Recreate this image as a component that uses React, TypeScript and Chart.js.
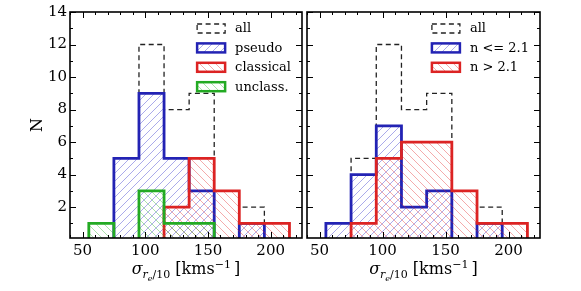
import React, { useEffect, useRef } from 'react';
import { Chart, registerables } from 'chart.js';

Chart.register(...registerables);

// ---------- data ----------
const binEdges = [55, 75, 95, 115, 135, 155, 175, 195, 215];
const allCounts = [1, 5, 12, 8, 9, 3, 2, 1];
const pseudoCounts = [0, 5, 9, 5, 3, 0, 1, 0];
const classicalCounts = [0, 0, 0, 2, 5, 3, 1, 1];
const unclassCounts = [1, 0, 3, 1, 1, 0, 0, 0];
const lowNCounts = [1, 4, 7, 2, 3, 0, 1, 0];
const highNCounts = [0, 1, 5, 6, 6, 3, 1, 1];
const xTickValues = [50, 100, 150, 200];
const xMinorValues = [40, 60, 70, 80, 90, 110, 120, 130, 140, 160, 170, 180, 190, 210, 220];
const yTickValues = [2, 4, 6, 8, 10, 12, 14];
const yMinorValues = [1, 3, 5, 7, 9, 11, 13];
const leftLabels = ['all', 'pseudo', 'classical', 'unclass.'];
const rightLabels = ['all', 'n <= 2.1', 'n > 2.1'];

const X_MIN = 40;
const X_MAX = 225;
const Y_MIN = 0.1;
const Y_MAX = 14;

const BLUE = '#2323b4';
const RED = '#dc2323';
const GREEN = '#23aa23';
const BLUE_H = 'rgba(35,35,200,0.38)';
const RED_H = 'rgba(225,35,35,0.38)';
const GREEN_H = 'rgba(35,180,35,0.38)';
const FONT = "'DejaVu Serif', serif";

function outline(counts: number[]) {
  const pts: { x: number; y: number }[] = [{ x: binEdges[0], y: 0 }];
  counts.forEach((c, i) => {
    pts.push({ x: binEdges[i], y: c });
    pts.push({ x: binEdges[i + 1], y: c });
  });
  pts.push({ x: binEdges[binEdges.length - 1], y: 0 });
  return pts;
}

function makeHatch(color: string, dir: 1 | -1): CanvasPattern | string {
  const s = 8;
  const c = document.createElement('canvas');
  c.width = s;
  c.height = s;
  const g = c.getContext('2d');
  if (!g) return 'transparent';
  g.strokeStyle = color;
  g.lineWidth = 1;
  g.beginPath();
  for (let k = -1; k <= 1; k++) {
    if (dir === 1) {
      g.moveTo(k * s, s);
      g.lineTo(s + k * s, 0);
    } else {
      g.moveTo(k * s, 0);
      g.lineTo(s + k * s, s);
    }
  }
  g.stroke();
  return g.createPattern(c, 'repeat') || 'transparent';
}

type LegendItem = { label: string; color: string; dashed: boolean; fill: CanvasPattern | string | null };

function makeFramePlugin(items: LegendItem[], showY: boolean) {
  return {
    id: 'framePlugin',
    afterDraw(chart: any) {
      const { ctx, chartArea: a } = chart;
      const xs = chart.scales.x;
      const ys = chart.scales.y;
      ctx.save();
      ctx.setLineDash([]);
      ctx.strokeStyle = '#000';
      ctx.lineWidth = 1;
      ctx.beginPath();
      const xtick = (vals: number[], len: number) => {
        vals.forEach((v) => {
          const px = Math.round(xs.getPixelForValue(v)) + 0.5;
          if (px < a.left || px > a.right) return;
          ctx.moveTo(px, a.bottom);
          ctx.lineTo(px, a.bottom - len);
          ctx.moveTo(px, a.top);
          ctx.lineTo(px, a.top + len);
        });
      };
      const ytick = (vals: number[], len: number) => {
        vals.forEach((v) => {
          const py = Math.round(ys.getPixelForValue(v)) + 0.5;
          if (py < a.top || py > a.bottom) return;
          ctx.moveTo(a.left, py);
          ctx.lineTo(a.left + len, py);
          ctx.moveTo(a.right, py);
          ctx.lineTo(a.right - len, py);
        });
      };
      xtick(xTickValues, 6);
      xtick(xMinorValues, 3);
      ytick(yTickValues, 6);
      ytick(yMinorValues, 3);
      ctx.stroke();
      ctx.lineWidth = 1.6;
      ctx.strokeRect(a.left, a.top, a.right - a.left, a.bottom - a.top);

      // legend
      ctx.font = `13px ${FONT}`;
      let maxW = 0;
      items.forEach((it) => (maxW = Math.max(maxW, ctx.measureText(it.label).width)));
      const rectW = 28;
      const rectH = 9;
      const rx = a.right - 11 - maxW - 10 - rectW;
      items.forEach((it, i) => {
        const cy = a.top + 16.5 + i * 19.4;
        if (it.fill) {
          ctx.fillStyle = it.fill;
          ctx.fillRect(rx, cy - rectH / 2, rectW, rectH);
        }
        ctx.strokeStyle = it.color;
        ctx.lineWidth = it.dashed ? 1.3 : 2.5;
        ctx.setLineDash(it.dashed ? [5, 3.5] : []);
        ctx.strokeRect(rx, cy - rectH / 2, rectW, rectH);
        ctx.setLineDash([]);
        ctx.fillStyle = '#000';
        ctx.textAlign = 'left';
        ctx.textBaseline = 'middle';
        ctx.font = `13px ${FONT}`;
        ctx.fillText(it.label, rx + rectW + 10, cy + 0.5);
      });

      // x-axis title: sigma_{r_e/10} [kms^-1]
      const parts = [
        { t: 'σ', size: 16, italic: true, dy: 0 },
        { t: 'r', size: 11, italic: true, dy: 4 },
        { t: 'e', size: 8, italic: true, dy: 6.5 },
        { t: '/10', size: 11, italic: false, dy: 4 },
        { t: ' [kms', size: 16, italic: false, dy: 0 },
        { t: '−1', size: 11, italic: false, dy: -6.5 },
        { t: '\u2009]', size: 16, italic: false, dy: 0 },
      ];
      let total = 0;
      const widths = parts.map((p) => {
        ctx.font = `${p.italic ? 'italic ' : ''}${p.size}px ${FONT}`;
        const w = ctx.measureText(p.t).width;
        total += w;
        return w;
      });
      let x = (a.left + a.right) / 2 - total / 2;
      const base = 274;
      ctx.textAlign = 'left';
      ctx.textBaseline = 'alphabetic';
      ctx.fillStyle = '#000';
      parts.forEach((p, i) => {
        ctx.font = `${p.italic ? 'italic ' : ''}${p.size}px ${FONT}`;
        ctx.fillText(p.t, x, base + p.dy);
        x += widths[i];
      });

      if (showY) {
        ctx.save();
        ctx.translate(38, (a.top + a.bottom) / 2);
        ctx.rotate(-Math.PI / 2);
        ctx.font = `16px ${FONT}`;
        ctx.textAlign = 'center';
        ctx.textBaseline = 'middle';
        ctx.fillText('N', 0, 0);
        ctx.restore();
      }
      ctx.restore();
    },
  };
}

function dataset(counts: number[], color: string, fill: any, order: number, dashed = false) {
  return {
    data: outline(counts),
    borderColor: color,
    borderWidth: dashed ? 1.3 : 2.8,
    borderDash: dashed ? [5, 3.5] : [],
    backgroundColor: fill || 'rgba(0,0,0,0)',
    fill: fill ? 'origin' : false,
    pointRadius: 0,
    tension: 0,
    clip: 0,
    order,
    borderJoinStyle: 'miter',
  };
}

function buildConfig(datasets: any[], items: LegendItem[], showY: boolean, padding: any) {
  return {
    type: 'line',
    data: { datasets },
    options: {
      animation: false,
      responsive: false,
      maintainAspectRatio: false,
      devicePixelRatio: 1,
      layout: { padding },
      plugins: {
        legend: { display: false },
        tooltip: { enabled: false },
      },
      scales: {
        x: {
          type: 'linear',
          min: X_MIN,
          max: X_MAX,
          grid: { display: false, drawTicks: false },
          border: { display: false },
          afterBuildTicks: (s: any) => {
            s.ticks = xTickValues.map((v) => ({ value: v }));
          },
          afterFit: (s: any) => {
            s.height = 53;
          },
          ticks: {
            padding: 4,
            maxRotation: 0,
            autoSkip: false,
            color: '#000',
            font: { family: FONT, size: 15 },
          },
        },
        y: {
          type: 'linear',
          min: Y_MIN,
          max: Y_MAX,
          display: showY,
          grid: { display: false, drawTicks: false },
          border: { display: false },
          afterBuildTicks: (s: any) => {
            s.ticks = yTickValues.map((v) => ({ value: v }));
          },
          afterFit: (s: any) => {
            s.width = showY ? 70 : 0;
          },
          ticks: {
            padding: 3,
            autoSkip: false,
            color: '#000',
            font: { family: FONT, size: 15 },
          },
        },
      },
    },
    plugins: [makeFramePlugin(items, showY)],
  };
}

export default function App() {
  const leftRef = useRef<HTMLCanvasElement>(null);
  const rightRef = useRef<HTMLCanvasElement>(null);

  useEffect(() => {
    document.body.style.margin = '0';
    const blueF = makeHatch(BLUE_H, 1);
    const redF = makeHatch(RED_H, -1);
    const greenF = makeHatch(GREEN_H, -1);
    const DASH = '#222';

    const leftSets = [
      dataset(allCounts, DASH, null, 3, true),
      dataset(pseudoCounts, BLUE, blueF, 2),
      dataset(classicalCounts, RED, redF, 1),
      dataset(unclassCounts, GREEN, greenF, 0),
    ];
    const leftItems: LegendItem[] = [
      { label: leftLabels[0], color: DASH, dashed: true, fill: null },
      { label: leftLabels[1], color: BLUE, dashed: false, fill: blueF },
      { label: leftLabels[2], color: RED, dashed: false, fill: redF },
      { label: leftLabels[3], color: GREEN, dashed: false, fill: greenF },
    ];
    const rightSets = [
      dataset(allCounts, DASH, null, 2, true),
      dataset(lowNCounts, BLUE, blueF, 1),
      dataset(highNCounts, RED, redF, 0),
    ];
    const rightItems: LegendItem[] = [
      { label: rightLabels[0], color: DASH, dashed: true, fill: null },
      { label: rightLabels[1], color: BLUE, dashed: false, fill: blueF },
      { label: rightLabels[2], color: RED, dashed: false, fill: redF },
    ];

    const c1 = new Chart(
      leftRef.current as HTMLCanvasElement,
      buildConfig(leftSets, leftItems, true, { left: 0, right: 3, top: 12, bottom: 0 }) as any
    );
    const c2 = new Chart(
      rightRef.current as HTMLCanvasElement,
      buildConfig(rightSets, rightItems, false, { left: 5, right: 41, top: 12, bottom: 0 }) as any
    );
    return () => {
      c1.destroy();
      c2.destroy();
    };
  }, []);

  return (
    <div style={{ position: 'relative', width: 581, height: 291, background: '#fff' }}>
      <canvas
        ref={leftRef}
        width={305}
        height={291}
        style={{ position: 'absolute', left: 0, top: 0, width: 305, height: 291 }}
      />
      <canvas
        ref={rightRef}
        width={279}
        height={291}
        style={{ position: 'absolute', left: 302, top: 0, width: 279, height: 291 }}
      />
    </div>
  );
}
